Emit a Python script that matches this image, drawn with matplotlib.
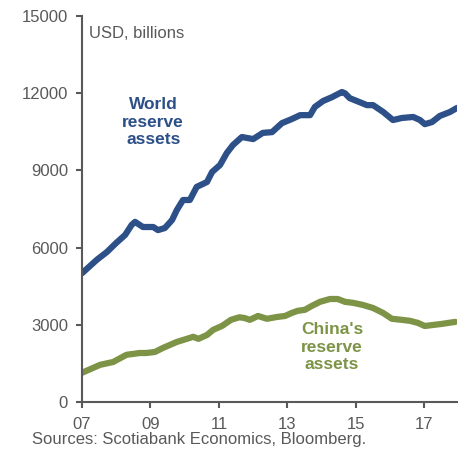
import matplotlib
matplotlib.use('Agg')
from matplotlib import pyplot as plt

# values, USD billions
world_years = [2007.0, 2007.43, 2007.73, 2008.0, 2008.26, 2008.45, 2008.55, 2008.78, 2009.08,
               2009.22, 2009.42, 2009.63, 2009.77, 2009.95, 2010.15, 2010.35, 2010.65, 2010.8,
               2011.03, 2011.23, 2011.41, 2011.67, 2012.0, 2012.28, 2012.55, 2012.84, 2013.13,
               2013.37, 2013.66, 2013.8, 2014.04, 2014.3, 2014.59, 2014.68, 2014.82, 2015.1,
               2015.32, 2015.5, 2015.8, 2016.08, 2016.34, 2016.67, 2016.87, 2017.01, 2017.22,
               2017.45, 2017.74, 2017.95]
world_vals = [5000, 5520, 5830, 6180, 6490, 6880, 7000, 6800, 6800,
              6680, 6760, 7070, 7460, 7850, 7850, 8360, 8550, 8940,
              9210, 9680, 9990, 10300, 10220, 10460, 10490, 10840, 11000,
              11150, 11150, 11470, 11700, 11850, 12050, 12000, 11810, 11660,
              11540, 11540, 11270, 10960, 11040, 11080, 10960, 10800, 10880,
              11120, 11270, 11430]

china_years = [2007.0, 2007.53, 2007.91, 2008.3, 2008.69, 2008.88, 2009.13, 2009.37, 2009.77,
               2010.06, 2010.25, 2010.4, 2010.65, 2010.83, 2011.1, 2011.35, 2011.6, 2011.75,
               2011.9, 2012.14, 2012.4, 2012.69, 2012.93, 2013.13, 2013.3, 2013.51, 2013.71,
               2013.95, 2014.24, 2014.47, 2014.68, 2014.92, 2015.2, 2015.5, 2015.79, 2016.05,
               2016.34, 2016.58, 2016.81, 2017.01, 2017.25, 2017.5, 2017.9]
china_vals = [1130, 1440, 1550, 1830, 1900, 1900, 1940, 2100, 2330,
              2450, 2530, 2450, 2600, 2800, 2960, 3190, 3290, 3260,
              3190, 3340, 3230, 3300, 3340, 3460, 3540, 3580, 3730,
              3890, 4000, 4000, 3890, 3850, 3770, 3650, 3460, 3230,
              3190, 3150, 3070, 2950, 2990, 3030, 3110]

tick_years = [2007, 2009, 2011, 2013, 2015, 2017]
tick_labels = ['07', '09', '11', '13', '15', '17']

plt.rcParams['font.family'] = ['Liberation Sans', 'DejaVu Sans']
grey = '#595959'
blue = '#2C5087'
green = '#7D9447'

fig = plt.figure(figsize=(4.63, 4.49), dpi=100)
ax = fig.add_axes([0.177, 0.105, 0.81, 0.859])

ax.plot(world_years, world_vals, color=blue, lw=4.5,
        solid_capstyle='round', solid_joinstyle='round')
ax.plot(china_years, china_vals, color=green, lw=4.5,
        solid_capstyle='round', solid_joinstyle='round')

ax.set_xlim(2007, 2017.95)
ax.set_ylim(0, 15000)
ax.set_yticks([0, 3000, 6000, 9000, 12000, 15000])
ax.set_xticks(tick_years)
ax.set_xticklabels(tick_labels)

for s in ['top', 'right']:
    ax.spines[s].set_visible(False)
for s in ['left', 'bottom']:
    ax.spines[s].set_color(grey)
    ax.spines[s].set_linewidth(1.5)
ax.tick_params(axis='both', colors=grey, labelsize=12, length=4, width=1.5)
ax.tick_params(axis='x', pad=7)
ax.tick_params(axis='y', pad=6)

ax.text(0.02, 0.956, 'USD, billions', transform=ax.transAxes, fontsize=12,
        color=grey, va='center', ha='left')
ax.text(0.19, 0.725, 'World\nreserve\nassets', transform=ax.transAxes, fontsize=12.5,
        fontweight='bold', color=blue, ha='center', va='center', linespacing=1.2)
ax.text(0.667, 0.142, "China's\nreserve\nassets", transform=ax.transAxes, fontsize=12.5,
        fontweight='bold', color=green, ha='center', va='center', linespacing=1.2)

fig.text(0.069, 0.011, 'Sources: Scotiabank Economics, Bloomberg.', fontsize=12,
         color=grey, ha='left', va='baseline')

fig.savefig('out.png', dpi=100)
